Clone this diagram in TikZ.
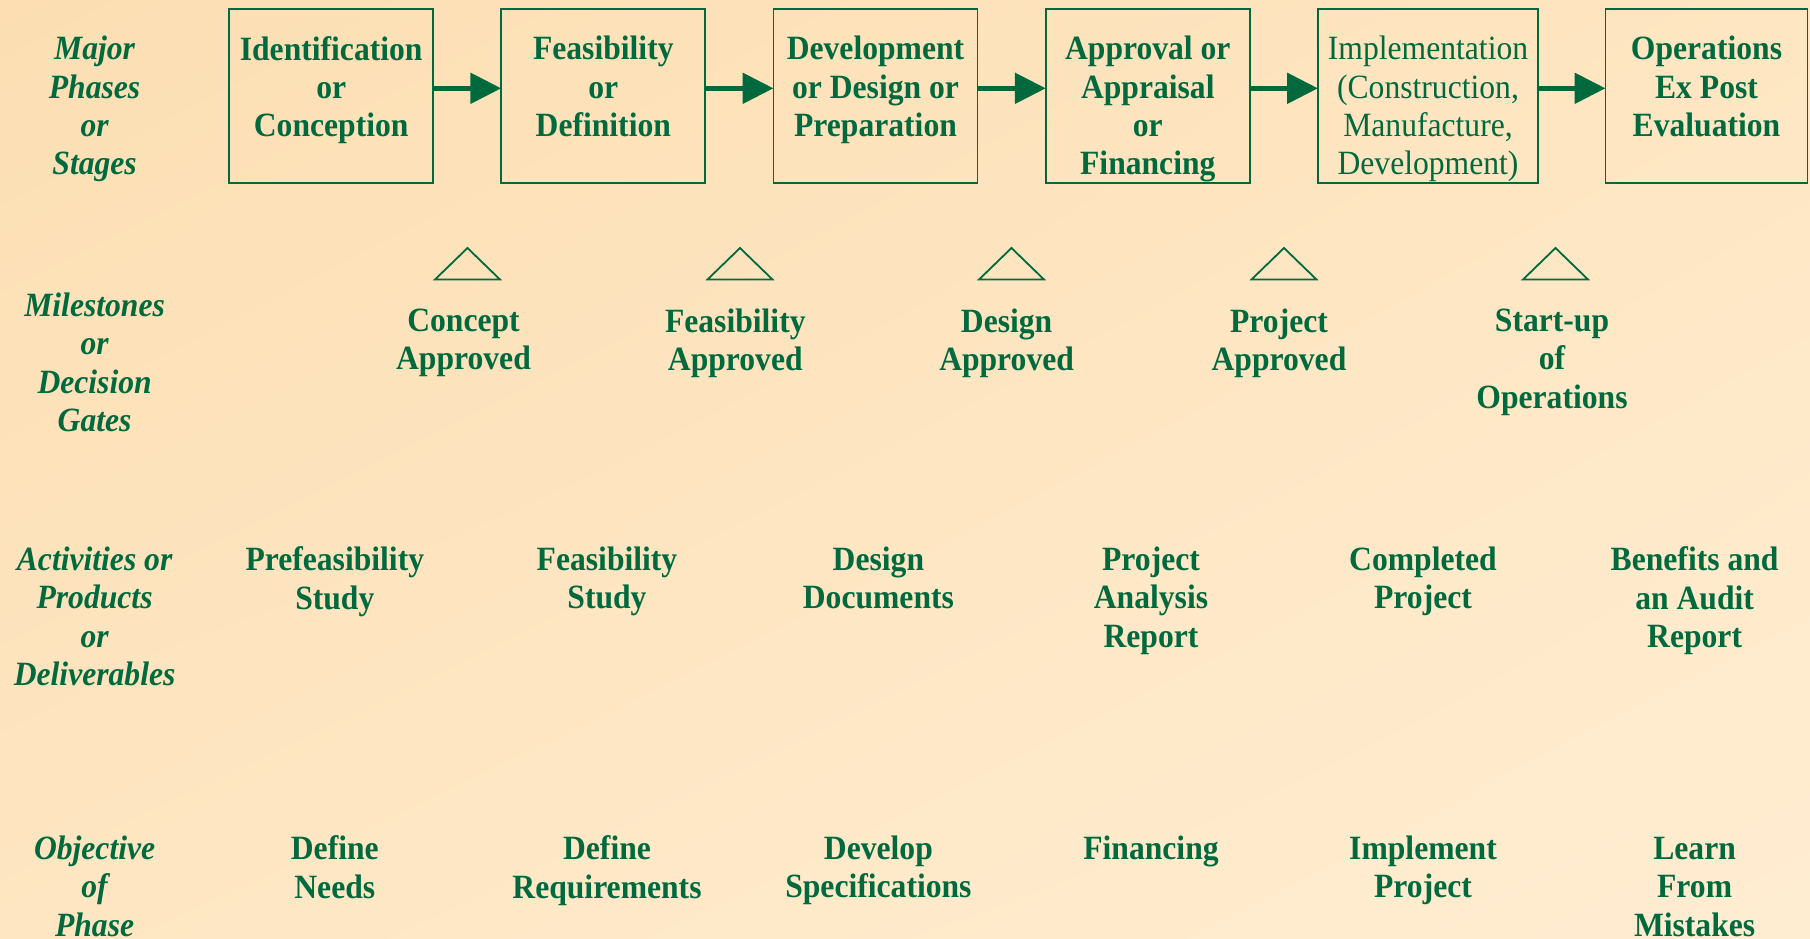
\documentclass[tikz,border=0pt]{standalone}
\usepackage{fontspec}
\setmainfont{Liberation Serif}[FakeStretch = 0.93]
\usepackage{tikz}
\usetikzlibrary{arrows.meta, positioning, shadings}
\definecolor{phasegreen}{RGB}{0,106,62}
\definecolor{peachA}{RGB}{252,222,178}
\definecolor{peachB}{RGB}{254,230,194}
\definecolor{peachC}{RGB}{255,237,210}
\newcommand{\phasesize}{\fontsize{34}{38.3}\selectfont}
\tikzset{
  phase/.style = {draw = phasegreen, line width = 1.8pt, minimum width = 204pt, minimum height = 174pt, inner sep = 0pt, outer sep = 0pt},
  word/.style = {text = phasegreen, align = center, anchor = north, inner sep = 0pt, font = \phasesize\bfseries},
  plainword/.style = {word, font = \phasesize},
  rowname/.style = {word, font = \phasesize\bfseries\itshape},
  flow/.style = {draw = phasegreen, line width = 5.5pt, -{Triangle[length = 31pt, width = 30pt]}},
  gate/.style = {draw = phasegreen, line width = 1.8pt}
}

\begin{document}
\begin{tikzpicture}[x = 1pt, y = -1pt]

\shade[upper left = peachA, upper right = peachB, lower left = peachB, lower right = peachC] (0, 0) rectangle (1810, 938);
\useasboundingbox (0, 0) rectangle (1810, 938);

\node[phase] (p1) at (331.2, 96.3) {};
\node[phase] (p2) at (603.3, 96.3) {};
\node[phase] (p3) at (875.5, 96.3) {};
\node[phase] (p4) at (1147.8, 96.3) {};
\node[phase, minimum width = 220pt] (p5) at (1428, 96.3) {};
\node[phase, minimum width = 202pt] (p6) at (1706.5, 96.3) {};

\node[word, below = 26.9pt of p1.north] (t1) {Identification\\or\\Conception};
\node[word, below = 26.9pt of p2.north] (t2) {Feasibility\\or\\Definition};
\node[word, below = 26.9pt of p3.north] (t3) {Development\\or Design or\\Preparation};
\node[word, below = 26.9pt of p4.north] (t4) {Approval or\\Appraisal\\or\\Financing};
\node[plainword, below = 26.9pt of p5.north] (t5) {Implementation\\(Construction,\\Manufacture,\\Development)};
\node[word, below = 26.9pt of p6.north] (t6) {Operations\\Ex Post\\Evaluation};

\foreach \a/\b in {p1/p2, p2/p3, p3/p4, p4/p5, p5/p6}{\path [flow] ([yshift = 8pt]\a.east) -- ([yshift = 8pt]\b.west);}

\foreach \x in {467.5, 740, 1011.5, 1284, 1555.5}{\draw [gate] (\x, 248) -- (\x + 32.5, 279.5) -- (\x - 32.5, 279.5) -- cycle;}

\node[rowname] (maj) at (94.6, 36.2) {Major\\Phases\\or\\Stages};
\node[rowname] (mil) at (94.6, 292.7) {Milestones\\or\\Decision\\Gates};
\node[rowname] (act) at (94.6, 546.7) {Activities or\\Products\\or\\Deliverables};
\node[rowname] (obj) at (94.6, 835.7) {Objective\\of\\Phase};

\node[word] (g1) at (463.5, 308.7) {Concept\\Approved};
\node[word] (g2) at (735.3, 308.7) {Feasibility\\Approved};
\node[word] (g3) at (1006.6, 308.7) {Design\\Approved};
\node[word] (g4) at (1279, 308.7) {Project\\Approved};
\node[word] (g5) at (1552, 308.7) {Start-up\\of\\Operations};

\node[word] (d1) at (334.8, 546.7) {Prefeasibility\\Study};
\node[word] (d2) at (607, 546.7) {Feasibility\\Study};
\node[word] (d3) at (878.4, 546.7) {Design\\Documents};
\node[word] (d4) at (1151, 546.7) {Project\\Analysis\\Report};
\node[word] (d5) at (1423, 546.7) {Completed\\Project};
\node[word] (d6) at (1694.6, 546.7) {Benefits and\\an Audit\\Report};

\node[word] (o1) at (334.8, 835.7) {Define\\Needs};
\node[word] (o2) at (607, 835.7) {Define\\Requirements};
\node[word] (o3) at (878.4, 835.7) {Develop\\Specifications};
\node[word] (o4) at (1151, 835.7) {Financing};
\node[word] (o5) at (1423, 835.7) {Implement\\Project};
\node[word] (o6) at (1694.6, 837.2) {Learn\\From\\Mistakes};

\end{tikzpicture}
\end{document}
